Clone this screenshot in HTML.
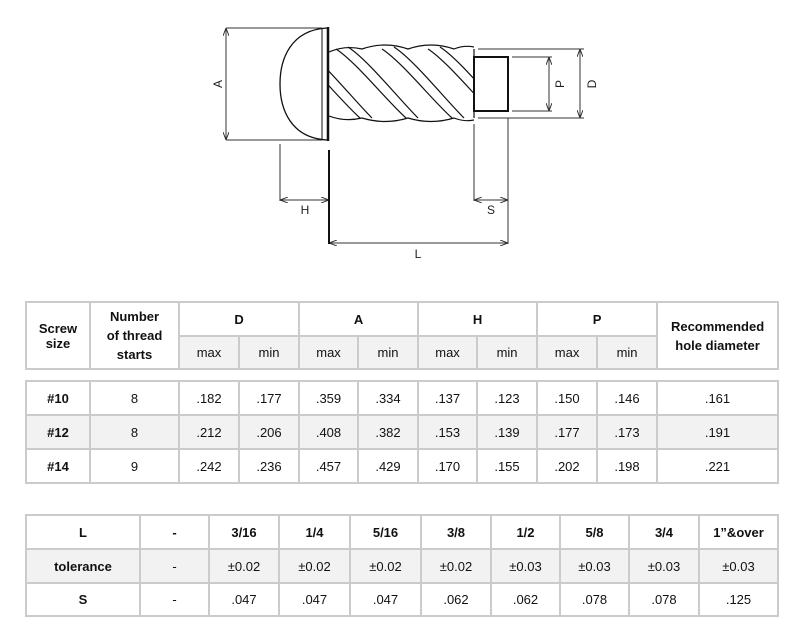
<!DOCTYPE html>
<html><head><meta charset="utf-8"><style>
body{margin:0;width:800px;height:635px;background:#fff;position:relative;font-family:"Liberation Sans",sans-serif;color:#111;overflow:hidden}
table{position:absolute;border-collapse:collapse;table-layout:fixed;font-size:13px}
td{border:2px solid #cbcbcb;text-align:center;padding:0;vertical-align:middle}
.b{font-weight:bold}
.gr td{background:#f2f2f2}
</style></head><body>
<svg width="800" height="290" style="position:absolute;left:0;top:0" font-family="Liberation Sans,sans-serif" font-size="12">
<defs>
<marker id="ar" markerWidth="8" markerHeight="6" refX="7" refY="3" orient="auto-start-reverse" markerUnits="userSpaceOnUse"><path d="M0,0 L8,3 L0,6" fill="none" stroke="#333" stroke-width="1"/></marker>
<clipPath id="sh"><rect x="329" y="44" width="145" height="80"/></clipPath>
</defs>
<g stroke="#333" stroke-width="1" fill="none">
<line x1="226" y1="28" x2="322" y2="28"/><line x1="226" y1="140" x2="322" y2="140"/>
<line x1="226" y1="29" x2="226" y2="139" marker-start="url(#ar)" marker-end="url(#ar)"/>
<line x1="280" y1="144" x2="280" y2="201"/>
<line x1="281" y1="200" x2="328" y2="200" marker-start="url(#ar)" marker-end="url(#ar)"/>
<line x1="474" y1="124" x2="474" y2="201"/><line x1="508" y1="118" x2="508" y2="244"/>
<line x1="475" y1="200" x2="507" y2="200" marker-start="url(#ar)" marker-end="url(#ar)"/>
<line x1="330" y1="243" x2="507" y2="243" marker-start="url(#ar)" marker-end="url(#ar)"/>
<line x1="512" y1="57" x2="552" y2="57"/><line x1="512" y1="111" x2="552" y2="111"/>
<line x1="549" y1="58" x2="549" y2="110" marker-start="url(#ar)" marker-end="url(#ar)"/>
<line x1="478" y1="49" x2="584" y2="49"/><line x1="478" y1="118" x2="584" y2="118"/>
<line x1="580" y1="50" x2="580" y2="117" marker-start="url(#ar)" marker-end="url(#ar)"/>
</g>
<g stroke="#111" fill="none">
<path d="M327,28 C290,30 280,60 280,84 C280,108 290,138 327,140" stroke-width="1.3"/>
<line x1="322" y1="29" x2="322" y2="139" stroke-width="1"/>
<line x1="328" y1="27" x2="328" y2="141" stroke-width="2.5"/>
<line x1="329" y1="150" x2="329" y2="244" stroke-width="2"/>
<g clip-path="url(#sh)" stroke-width="1.2">
<path d="M329,52 Q345,45 362,49 Q385,41 408,49 Q431,41 454,49 Q464,45 474,47"/>
<path d="M329,116 Q345,122 362,118 Q385,125 408,118 Q431,125 454,118 Q464,122 474,120"/>
<g id="bd">
<path d="M290,49 C310,62 340,100 360,118"/><path d="M302,47 C322,60 352,98 372,118"/>
</g>
<use href="#bd" x="46"/><use href="#bd" x="92"/><use href="#bd" x="138"/><use href="#bd" x="184"/>
</g>
<line x1="474" y1="49" x2="474" y2="118" stroke-width="1.2"/>
<rect x="474" y="57" width="34" height="54" stroke-width="2"/>
</g>
<g fill="#222" text-anchor="middle">
<text x="0" y="0" transform="translate(222,84) rotate(-90)">A</text>
<text x="305" y="214">H</text>
<text x="491" y="214">S</text>
<text x="418" y="258">L</text>
<text x="0" y="0" transform="translate(564,84) rotate(-90)">P</text>
<text x="0" y="0" transform="translate(596,84) rotate(-90)">D</text>
</g>
</svg>

<table style="left:25px;top:301px;width:752px">
<colgroup><col style="width:64px"><col style="width:89px"><col style="width:60px"><col style="width:60px"><col style="width:59px"><col style="width:60px"><col style="width:59px"><col style="width:60px"><col style="width:60px"><col style="width:60px"><col style="width:121px"></colgroup>
<tr style="height:34px"><td rowspan="2" class="b">Screw<br>size</td><td rowspan="2" class="b" style="line-height:19px">Number<br>of thread<br>starts</td><td colspan="2" class="b">D</td><td colspan="2" class="b">A</td><td colspan="2" class="b">H</td><td colspan="2" class="b">P</td><td rowspan="2" class="b" style="line-height:19px">Recommended<br>hole diameter</td></tr>
<tr style="height:33px" class="gr"><td>max</td><td>min</td><td>max</td><td>min</td><td>max</td><td>min</td><td>max</td><td>min</td></tr>
</table>

<table style="left:25px;top:380px;width:752px">
<colgroup><col style="width:64px"><col style="width:89px"><col style="width:60px"><col style="width:60px"><col style="width:59px"><col style="width:60px"><col style="width:59px"><col style="width:60px"><col style="width:60px"><col style="width:60px"><col style="width:121px"></colgroup>
<tr style="height:34px"><td class="b">#10</td><td>8</td><td>.182</td><td>.177</td><td>.359</td><td>.334</td><td>.137</td><td>.123</td><td>.150</td><td>.146</td><td>.161</td></tr>
<tr style="height:34px" class="gr"><td class="b">#12</td><td>8</td><td>.212</td><td>.206</td><td>.408</td><td>.382</td><td>.153</td><td>.139</td><td>.177</td><td>.173</td><td>.191</td></tr>
<tr style="height:34px"><td class="b">#14</td><td>9</td><td>.242</td><td>.236</td><td>.457</td><td>.429</td><td>.170</td><td>.155</td><td>.202</td><td>.198</td><td>.221</td></tr>
</table>

<table style="left:25px;top:514px;width:752px">
<colgroup><col style="width:114px"><col style="width:69px"><col style="width:70px"><col style="width:71px"><col style="width:71px"><col style="width:70px"><col style="width:69px"><col style="width:69px"><col style="width:70px"><col style="width:79px"></colgroup>
<tr style="height:34px" class="b"><td>L</td><td>-</td><td>3/16</td><td>1/4</td><td>5/16</td><td>3/8</td><td>1/2</td><td>5/8</td><td>3/4</td><td>1”&amp;over</td></tr>
<tr style="height:34px" class="gr"><td class="b">tolerance</td><td>-</td><td>±0.02</td><td>±0.02</td><td>±0.02</td><td>±0.02</td><td>±0.03</td><td>±0.03</td><td>±0.03</td><td>±0.03</td></tr>
<tr style="height:33px"><td class="b">S</td><td>-</td><td>.047</td><td>.047</td><td>.047</td><td>.062</td><td>.062</td><td>.078</td><td>.078</td><td>.125</td></tr>
</table>
</body></html>
